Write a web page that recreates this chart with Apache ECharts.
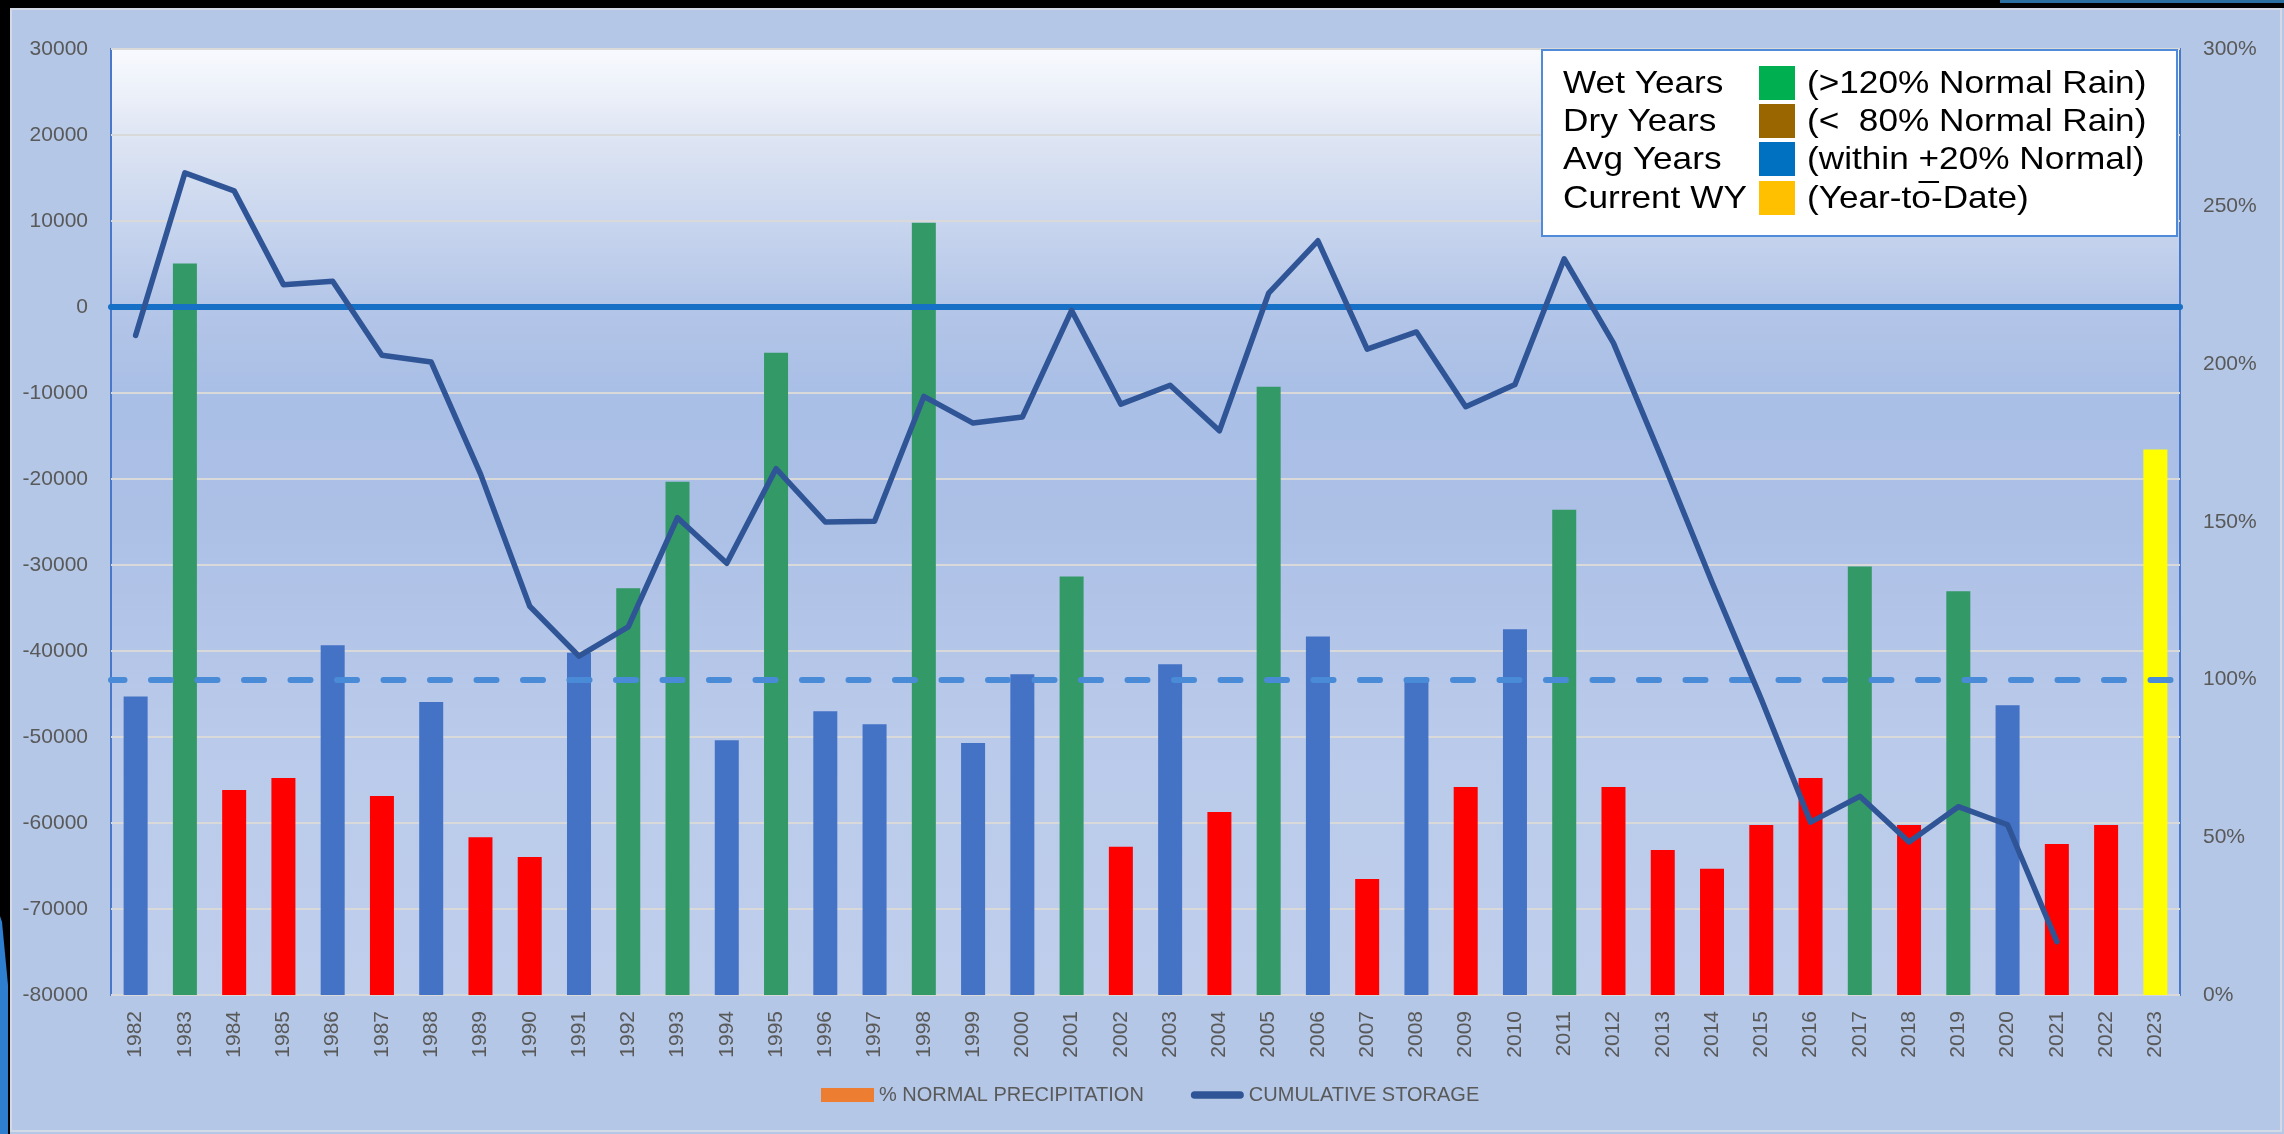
<!DOCTYPE html>
<html>
<head>
<meta charset="utf-8">
<script src="https://cdn.jsdelivr.net/npm/echarts@6/dist/echarts.min.js"></script>
<style>
  html, body { margin: 0; padding: 0; background: #B4C7E7; }
  #chart { width: 2284px; height: 1134px; }
</style>
</head>
<body>
<div id="chart"></div>
<script>
// Water years shown on the category axis
const years = ['1982','1983','1984','1985','1986','1987','1988','1989','1990','1991',
  '1992','1993','1994','1995','1996','1997','1998','1999','2000','2001',
  '2002','2003','2004','2005','2006','2007','2008','2009','2010','2011',
  '2012','2013','2014','2015','2016','2017','2018','2019','2020','2021',
  '2022','2023'];

// Rainfall as a percent of normal for each water year (right axis)
const pctNormal = [94.7, 232.0, 65.0, 68.8, 110.9, 63.1, 92.9, 50.0, 43.8, 108.5,
  129.0, 162.8, 80.8, 203.7, 90.0, 85.9, 244.9, 79.9, 101.7, 132.7,
  47.0, 104.9, 58.0, 192.9, 113.7, 36.8, 99.8, 66.0, 116.0, 153.9,
  66.0, 46.0, 40.0, 53.9, 68.8, 135.9, 53.9, 128.0, 91.9, 47.9,
  53.9, 173.0];

// Classification of each water year
const yearType = ['avg','wet','dry','dry','avg','dry','avg','dry','dry','avg',
  'wet','wet','avg','wet','avg','avg','wet','avg','avg','wet',
  'dry','avg','dry','wet','avg','dry','avg','dry','avg','wet',
  'dry','dry','dry','dry','dry','wet','dry','wet','avg','dry',
  'dry','current'];

// Cumulative storage change (left axis); not yet reported for the last two years
const storage = [-3300, 15600, 13500, 2600, 3000, -5600, -6400, -19400, -34800, -40600,
  -37200, -24500, -29800, -18800, -25000, -24900, -10400, -13500, -12800, -400,
  -11300, -9100, -14400, 1600, 7700, -4900, -2900, -11600, -9000, 5600,
  -4200, -17900, -32000, -45600, -59900, -56900, -62200, -58100, -60200, -73800,
  null, null];

// Reference levels
const storageBaseline = 0;
const normalPct = 100;

// Key shown in the upper-right box
const keyLabels = ['Wet Years', 'Dry Years', 'Avg Years', 'Current WY'];
const keyNotes = ['(>120% Normal Rain)', '(<  80% Normal Rain)', '(within +20% Normal)', '(Year-to-Date)'];
const keyTypes = ['wet', 'dry', 'avg', 'current'];

const barColors = { wet: '#339966', dry: '#FF0000', avg: '#4472C4', current: '#FFFF00' };
const keyColors = { wet: '#00B050', dry: '#996600', avg: '#0070C0', current: '#FFC000' };

const FONT = "'Liberation Sans', Arial, sans-serif";
const AXIS_GREY = '#595959';

const chart = echarts.init(document.getElementById('chart'), null, { renderer: 'canvas', width: 2284, height: 1134 });

// ---- key box (upper right) ----
const measure = document.createElement('canvas').getContext('2d');
const keyFont = '32px ' + FONT;
measure.font = keyFont;
const keyScaleX = 1.1;
const keyBox = { x: 1542, y: 50, w: 635, h: 186 };
const keyBaselines = [94, 132, 170, 209];
const keyLeftX = 1563, keySwatchX = 1759, keyNoteX = 1807;

const graphics = [];
// chart frame and window edge
graphics.push({ type: 'rect', z: 100, shape: { x: 11, y: 9, width: 2270, height: 1122 }, style: { fill: 'none', stroke: '#D3DAE6', lineWidth: 2 }, silent: true });
graphics.push({ type: 'rect', z: 101, shape: { x: 0, y: 0, width: 2284, height: 8 }, style: { fill: '#000' }, silent: true });
graphics.push({ type: 'rect', z: 102, shape: { x: 2000, y: 0, width: 284, height: 3 }, style: { fill: '#2B6EA0' }, silent: true });
graphics.push({ type: 'rect', z: 101, shape: { x: 0, y: 0, width: 10, height: 1134 }, style: { fill: '#000' }, silent: true });
graphics.push({ type: 'polygon', z: 102, shape: { points: [[0, 916], [2, 922], [8, 985], [8, 1134], [0, 1134]] }, style: { fill: '#2F7FD0' }, silent: true });

graphics.push({ type: 'rect', z: 50, shape: { x: keyBox.x, y: keyBox.y, width: keyBox.w, height: keyBox.h }, style: { fill: '#FFFFFF', stroke: '#4F8BD9', lineWidth: 2 }, silent: true });
keyLabels.forEach((lab, i) => {
  const base = keyBaselines[i];
  graphics.push({ type: 'text', z: 51, x: keyLeftX, y: base - 10, scaleX: keyScaleX, silent: true,
    style: { text: lab, font: keyFont, fill: '#000', verticalAlign: 'middle', align: 'left' } });
  graphics.push({ type: 'rect', z: 51, shape: { x: keySwatchX, y: base - 28, width: 36, height: 34 }, style: { fill: keyColors[keyTypes[i]] }, silent: true });
  graphics.push({ type: 'text', z: 51, x: keyNoteX, y: base - 10, scaleX: keyScaleX, silent: true,
    style: { text: keyNotes[i], font: keyFont, fill: '#000', verticalAlign: 'middle', align: 'left' } });
});
// underline beneath the "+" of "+20%"
(function () {
  const note = keyNotes[2];
  const idx = note.indexOf('+');
  const before = measure.measureText(note.slice(0, idx)).width * keyScaleX;
  const plusW = measure.measureText('+').width * keyScaleX;
  graphics.push({ type: 'rect', z: 52, shape: { x: keyNoteX + before, y: keyBaselines[2] + 11, width: plusW, height: 2 }, style: { fill: '#000' }, silent: true });
})();

// rounded bar used as the storage line's legend icon
const lineIcon = 'path://M4,0 L52,0 A4,4 0 0 1 52,8 L4,8 A4,4 0 0 1 4,0 Z';

const option = {
  animation: false,
  backgroundColor: '#B4C7E7',
  textStyle: { fontFamily: FONT },
  grid: {
    left: 111, top: 49, right: 104, bottom: 139,
    show: true,
    borderColor: '#4A78C8',
    borderWidth: 2,
    backgroundColor: {
      type: 'linear', x: 0, y: 0, x2: 0, y2: 1,
      colorStops: [
        { offset: 0.00, color: '#F8FAFE' },
        { offset: 0.04, color: '#EEF2FA' },
        { offset: 0.09, color: '#DFE6F4' },
        { offset: 0.18, color: '#C9D6EE' },
        { offset: 0.27, color: '#B4C6E8' },
        { offset: 0.36, color: '#AABFE6' },
        { offset: 0.50, color: '#ACC0E6' },
        { offset: 0.73, color: '#BACAEA' },
        { offset: 1.00, color: '#BECEEB' }
      ]
    }
  },
  legend: {
    left: 821, top: 1083,
    padding: 0,
    itemWidth: 53, itemHeight: 14, itemGap: 47,
    textStyle: { fontSize: 20, color: AXIS_GREY, fontFamily: FONT, lineHeight: 24 },
    data: [
      { name: '% NORMAL PRECIPITATION', icon: 'rect' },
      { name: 'CUMULATIVE STORAGE', icon: lineIcon }
    ]
  },
  xAxis: {
    type: 'category',
    data: years,
    boundaryGap: true,
    axisTick: { show: false },
    axisLine: { lineStyle: { color: '#4A78C8', width: 2 } },
    axisLabel: { rotate: 90, interval: 0, fontSize: 21, color: AXIS_GREY, margin: 16, fontFamily: FONT }
  },
  yAxis: [
    {
      type: 'value', min: -80000, max: 30000, interval: 10000,
      axisLine: { show: false }, axisTick: { show: false },
      axisLabel: { fontSize: 21, color: AXIS_GREY, margin: 23, fontFamily: FONT, formatter: (v) => String(v) },
      splitLine: { lineStyle: { color: '#D9D9D9', width: 2 } }
    },
    {
      type: 'value', min: 0, max: 300, interval: 50, position: 'right',
      axisLine: { show: false }, axisTick: { show: false },
      axisLabel: { formatter: '{value}%', fontSize: 21, color: AXIS_GREY, margin: 23, fontFamily: FONT },
      splitLine: { show: false }
    }
  ],
  series: [
    {
      name: '% NORMAL PRECIPITATION',
      type: 'bar',
      yAxisIndex: 1,
      barWidth: 24,
      z: 2,
      itemStyle: { color: '#ED7D31' },
      data: pctNormal.map((v, i) => ({ value: v, itemStyle: { color: barColors[yearType[i]] } })),
      markLine: {
        silent: true, z: 4,
        symbol: ['none', 'none'],
        label: { show: false },
        emphasis: { disabled: true },
        lineStyle: { color: '#4A8BD8', width: 6, type: [20, 26.5], dashOffset: 6.5, cap: 'round' },
        data: [{ yAxis: normalPct }]
      }
    },
    {
      name: 'CUMULATIVE STORAGE',
      type: 'line',
      yAxisIndex: 0,
      z: 6,
      symbol: 'none',
      showSymbol: false,
      connectNulls: false,
      itemStyle: { color: '#2F5597' },
      lineStyle: { color: '#2F5597', width: 5.5, cap: 'round', join: 'round' },
      data: storage,
      markLine: {
        silent: true, z: 4,
        symbol: ['none', 'none'],
        label: { show: false },
        emphasis: { disabled: true },
        lineStyle: { color: '#1570C6', width: 6, type: 'solid', cap: 'round' },
        data: [{ yAxis: storageBaseline }]
      }
    }
  ],
  graphic: graphics
};

chart.setOption(option);
</script>
</body>
</html>
